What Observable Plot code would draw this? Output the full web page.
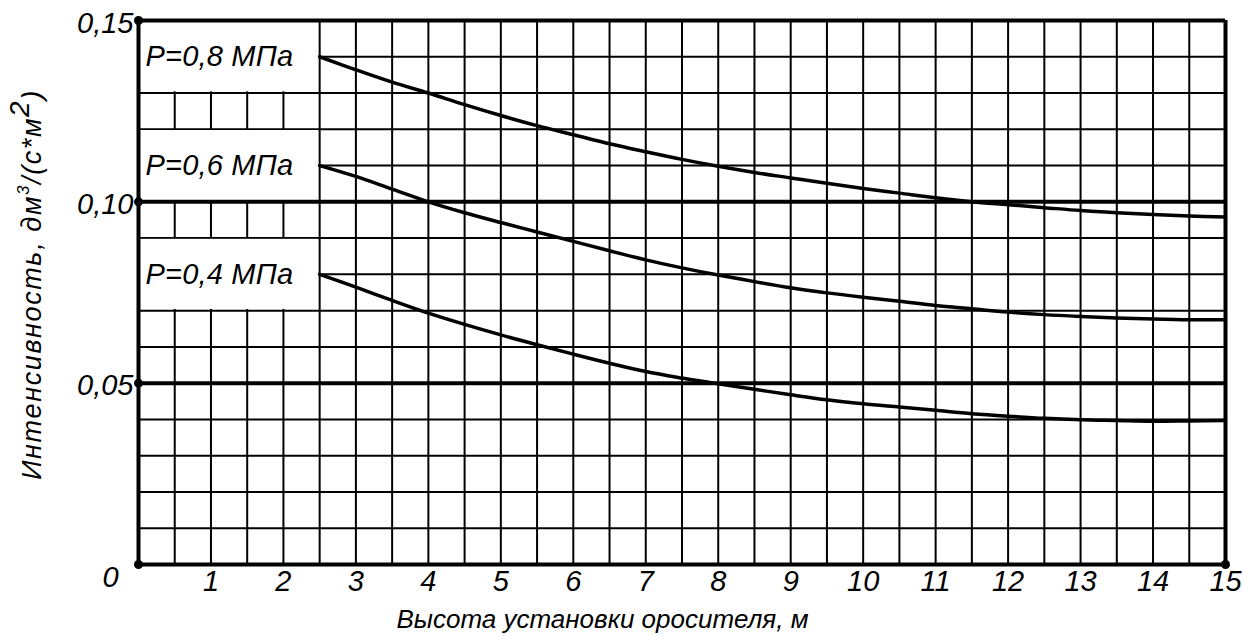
<!DOCTYPE html>
<html><head><meta charset="utf-8">
<script src="https://cdn.jsdelivr.net/npm/d3@7"></script>
<script src="https://cdn.jsdelivr.net/npm/@observablehq/plot@0.6"></script>
<style>
body{margin:0;background:#fff;}
#chart svg text{font-family:"Liberation Sans",Arial,sans-serif;font-style:italic;}
</style></head><body><div id="chart"></div><script>
// Heights (m) at which the curves were read
const heights = [2.5,3,3.5,4,4.5,5,5.5,6,6.5,7,7.5,8,8.5,9,9.5,10,10.5,11,11.5,12,12.5,13,13.5,14,14.5,15];
// Intensity, dm3/(s*m2)
const p08 = [0.1400,0.1364,0.1330,0.1300,0.1268,0.1238,0.1210,0.1185,0.1160,0.1138,0.1117,0.1098,0.1081,0.1066,0.1051,0.1037,0.1024,0.1011,0.1000,0.0992,0.0984,0.0976,0.0970,0.0965,0.0961,0.0958];
const p06 = [0.1100,0.1070,0.1035,0.1000,0.0970,0.0943,0.0917,0.0891,0.0865,0.0840,0.0818,0.0798,0.0780,0.0763,0.0749,0.0737,0.0726,0.0714,0.0705,0.0696,0.0689,0.0684,0.0680,0.0677,0.0675,0.0675];
const p04 = [0.0800,0.0765,0.0728,0.0693,0.0662,0.0633,0.0606,0.0580,0.0555,0.0532,0.0514,0.0498,0.0483,0.0468,0.0454,0.0443,0.0434,0.0425,0.0416,0.0409,0.0403,0.0399,0.0397,0.0395,0.0396,0.0397];
const seriesLabels = ["P=0,8 МПа","P=0,6 МПа","P=0,4 МПа"];
const seriesValues = [p08, p06, p04];

const xTicks = [1,2,3,4,5,6,7,8,9,10,11,12,13,14,15];
const xTickLabels = ["1","2","3","4","5","6","7","8","9","10","11","12","13","14","15"];
const yTicks = [0.05,0.10,0.15];
const yTickLabels = ["0,05","0,10","0,15"];
const originLabel = "0";
const xTitle = "Высота установки оросителя, м";
const yTitle = "Интенсивность, дм3/(с*м2)";

const xGrid = d3.range(1, 30).map(i => i * 0.5);
const yGrid = d3.range(1, 15).map(i => i / 100);
const boldY = [0, 0.05, 0.10, 0.15];
const boldX = [0, 15];

const rows = seriesLabels.flatMap((s, k) => heights.map((h, i) => ({series: s, x: h, y: seriesValues[k][i]})));
const boxes = seriesLabels.map((s, k) => ({label: s, x: heights[0], y: seriesValues[k][0]}));
const dots = [...boldY.map(v => ({x: 0, y: v})), {x: 15, y: 0}];

const chart = Plot.plot({
  width: 1242, height: 637,
  marginLeft: 138, marginRight: 17, marginTop: 20, marginBottom: 73,
  x: {domain: [0, 15], axis: null},
  y: {domain: [0, 0.15], axis: null},
  style: {fontFamily: "Liberation Sans, Arial, sans-serif", fontSize: "28px", fontStyle: "italic", background: "white", color: "black"},
  marks: [
    Plot.ruleX(xGrid, {x: d => d, stroke: "black", strokeWidth: 2}),
    Plot.ruleY(yGrid, {y: d => d, stroke: "black", strokeWidth: 2}),
    Plot.rect(boxes, {x1: () => 0, x2: "x", y1: d => d.y - 0.01, y2: d => d.y + 0.01, fill: "white", inset: 1.2}),
    Plot.ruleY(boldY, {y: d => d, stroke: "black", strokeWidth: 4}),
    Plot.ruleX(boldX, {x: d => d, stroke: "black", strokeWidth: 4}),
    Plot.line(rows, {x: "x", y: "y", z: "series", curve: "catmull-rom", stroke: "black", strokeWidth: 3.5}),
    Plot.dot(dots, {x: "x", y: "y", r: 4.5, fill: "black", stroke: null}),
    Plot.text(boxes, {x: () => 0, y: "y", text: "label", textAnchor: "start", dx: 7, fontSize: 29, fill: "black"}),
    Plot.text(xTicks, {x: d => d, y: () => 0, text: (d, i) => xTickLabels[i], dy: 17, fontSize: 29, fill: "black"}),
    Plot.text(yTicks, {x: () => 0, y: d => d, text: (d, i) => yTickLabels[i], textAnchor: "end", dx: -5, dy: 3, fontSize: 29, fill: "black"}),
    Plot.text([originLabel], {x: () => 0, y: () => 0, text: d => d, dx: -28, dy: 13, fontSize: 29, fill: "black"}),
    Plot.text([xTitle], {frameAnchor: "bottom-left", text: d => d, textAnchor: "start", dx: 258, dy: 63, fontSize: 26, fill: "black"}),
    Plot.text([yTitle], {frameAnchor: "left", text: d => d, textAnchor: "middle", rotate: -90, dx: -106, dy: -8, fontSize: 27, fill: "black"})
  ]
});
document.getElementById("chart").appendChild(chart);

for (const t of chart.querySelectorAll("text")) {
  if (seriesLabels.includes(t.textContent)) t.style.letterSpacing = "0.2px";
  if (t.textContent === yTitle) {
    // superscripts in the y title
    t.style.letterSpacing = "1.6px";
    const parts = [
      {s: "Интенсивность, дм", size: 27, dy: 0},
      {s: "3", size: 17, dy: -12},
      {s: "/(с*м", size: 27, dy: 12},
      {s: "2", size: 28, dy: -12},
      {s: ")", size: 27, dy: 12}
    ];
    while (t.firstChild) t.removeChild(t.firstChild);
    for (const p of parts) {
      const ts = document.createElementNS("http://www.w3.org/2000/svg", "tspan");
      ts.textContent = p.s;
      ts.setAttribute("font-size", p.size);
      if (p.dy) ts.setAttribute("dy", p.dy);
      t.appendChild(ts);
    }
  }
}
</script></body></html>
